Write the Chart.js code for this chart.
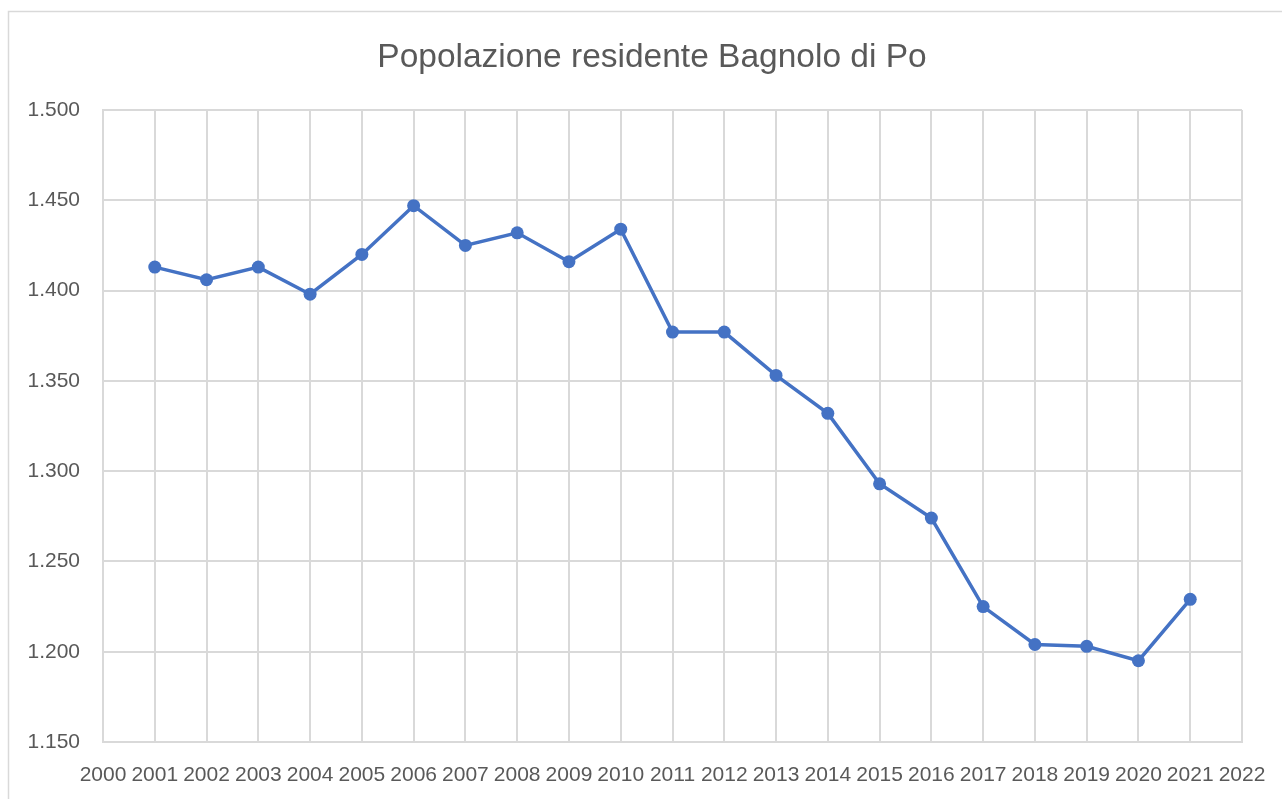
<!DOCTYPE html>
<html>
<head>
<meta charset="utf-8">
<script src="https://cdn.jsdelivr.net/npm/chart.js@4.4.1/dist/chart.umd.min.js"></script>
<style>
  html, body { margin: 0; padding: 0; background: #fff; }
  #wrap { width: 1282px; height: 799px; position: relative; }
</style>
</head>
<body>
<div id="wrap"><canvas id="popChart"></canvas></div>
<script>
var years = [2001, 2002, 2003, 2004, 2005, 2006, 2007, 2008, 2009, 2010, 2011,
             2012, 2013, 2014, 2015, 2016, 2017, 2018, 2019, 2020, 2021];
var residenti = [1413, 1406, 1413, 1398, 1420, 1447, 1425, 1432, 1416, 1434, 1377,
                 1377, 1353, 1332, 1293, 1274, 1225, 1204, 1203, 1195, 1229];
var yearMin = 2000, yearMax = 2022;
var popMin = 1150, popMax = 1500, popStep = 50;

// numeri con il punto come separatore delle migliaia
function formatIt(v) {
    return String(v).replace(/\B(?=(\d{3})+(?!\d))/g, '.');
}

// bordo grigio dell'area del grafico + titolo spostato un po' a destra
var chartBorder = {
    id: 'chartBorder',
    afterLayout: function (chart) {
        if (chart.titleBlock) {
            chart.titleBlock.left = 62;
            chart.titleBlock.right = 1242;
        }
    },
    beforeDraw: function (chart) {
        var ctx = chart.ctx;
        ctx.save();
        ctx.strokeStyle = '#d9d9d9';
        ctx.lineWidth = 1.5;
        ctx.strokeRect(8.5, 11.5, 1300, 820);
        ctx.restore();
    }
};

var punti = years.map(function (y, i) {
    return { x: y, y: residenti[i] };
});

var ctx = document.getElementById('popChart').getContext('2d');
var myChart = new Chart(ctx, {
    type: 'line',
    data: {
        datasets: [{
            label: 'Popolazione',
            data: punti,
            borderColor: '#4472c4',
            backgroundColor: '#4472c4',
            borderWidth: 3.5,
            pointRadius: 6.5,
            pointHoverRadius: 6.5,
            pointBorderWidth: 0,
            tension: 0
        }]
    },
    options: {
        responsive: true,
        maintainAspectRatio: false,
        animation: false,
        layout: { padding: { left: 28, right: 40, top: 0, bottom: 0 } },
        plugins: {
            legend: { display: false },
            tooltip: { enabled: false },
            title: {
                display: true,
                text: 'Popolazione residente Bagnolo di Po',
                color: '#595959',
                font: { family: 'Liberation Sans', size: 33.5, weight: 'normal' },
                padding: { top: 38, bottom: 31.8 }
            }
        },
        scales: {
            x: {
                type: 'linear',
                min: yearMin,
                max: yearMax,
                grid: { color: '#d9d9d9', lineWidth: 2, drawTicks: false },
                border: { color: '#d9d9d9', width: 2 },
                afterFit: function (scale) {
                    scale.height = 57;
                    scale.paddingLeft = 0;
                    scale.paddingRight = 0;
                },
                ticks: {
                    stepSize: 1,
                    autoSkip: false,
                    maxRotation: 0,
                    minRotation: 0,
                    padding: 21,
                    color: '#595959',
                    font: { family: 'Liberation Sans', size: 21 },
                    callback: function (v) { return String(v); }
                }
            },
            y: {
                min: popMin,
                max: popMax,
                grid: { color: '#d9d9d9', lineWidth: 2, drawTicks: false },
                border: { color: '#d9d9d9', width: 2 },
                afterFit: function (scale) { scale.width = 75; },
                ticks: {
                    stepSize: popStep,
                    padding: 23,
                    color: '#595959',
                    font: { family: 'Liberation Sans', size: 21 },
                    callback: function (v) { return formatIt(v); }
                }
            }
        }
    },
    plugins: [chartBorder]
});
</script>
</body>
</html>
